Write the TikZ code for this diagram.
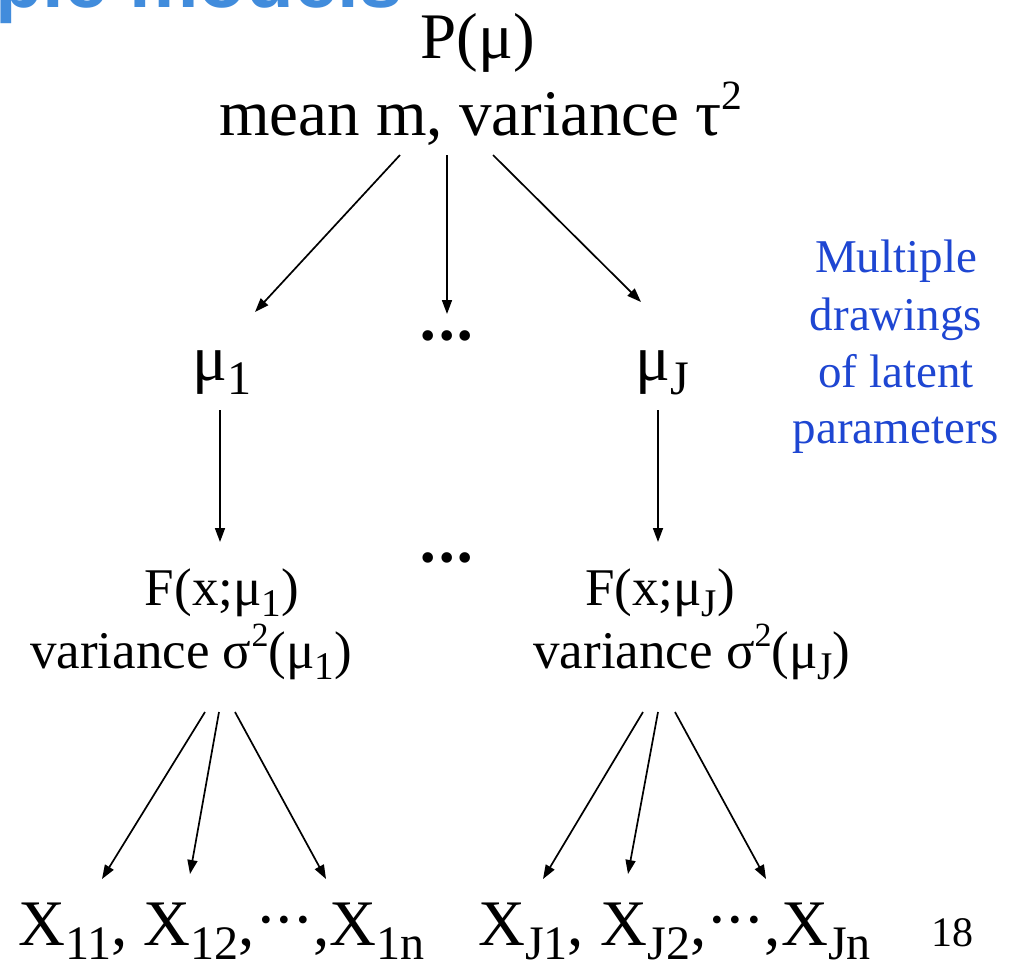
\documentclass[tikz,border=0pt]{standalone}
\usepackage{fontspec}
\setmainfont{Liberation Serif}
\newfontfamily\titlefont{Liberation Sans}
\usetikzlibrary{arrows.meta}
\definecolor{titleblue}{RGB}{65,140,220}
\definecolor{noteblue}{RGB}{30,70,210}
\newcommand\lo[1]{\raisebox{-0.22em}{\scalebox{0.74}{#1}}}
\newcommand\hi[1]{\raisebox{0.4em}{\scalebox{0.64}{#1}}}
\newcommand\cdts{\raisebox{0.05em}{\textperiodcentered\kern-0.05em\textperiodcentered\kern-0.05em\textperiodcentered}}
\tikzset{
  lbl/.style={inner sep=0pt, anchor=base, text=black},
  big/.style={lbl, font=\fontsize{65}{70}\selectfont},
  mid/.style={lbl, font=\fontsize{53}{58}\selectfont},
  note/.style={lbl, text=noteblue, font=\fontsize{47}{52}\selectfont},
  dotsn/.style={lbl, font=\fontsize{44}{48}\selectfont},
  arr/.style={line width=1.7pt, -{Triangle[length=14pt,width=10pt]}},
}
\begin{document}
\begin{tikzpicture}[x=1pt,y=-1pt]
\path[use as bounding box, clip] (0,0) rectangle (1015,962);
\fill[white] (0,0) rectangle (1015,962);
% cut-off title
\node[inner sep=0pt, anchor=base west, text=titleblue, font=\titlefont\bfseries\fontsize{78}{80}\selectfont] (title) at (-5,7) {ple models};
% top
\node[big] (P) at (478,58) {P(μ)};
\node[big] (mean) at (481,135) {mean m, variance τ\hi{2}};
% middle
\node[big] (mu1) at (222,380) {μ\lo{1}};
\node[big] (muJ) at (662,380) {μ\lo{J}};
\node[dotsn] (d1) at (447,350) {•\kern3pt•\kern3pt•};
\node[dotsn] (d2) at (447,572) {•\kern3pt•\kern3pt•};
% F nodes
\node[mid] (F1) at (222,605) {F(x;μ\lo{1})};
\node[mid] (V1) at (191,668) {variance σ\hi{2}(μ\lo{1})};
\node[mid] (FJ) at (660,605) {F(x;μ\lo{J})};
\node[mid] (VJ) at (692,668) {variance σ\hi{2}(μ\lo{J})};
% bottom
\node[big, anchor=base west] (X1) at (18,945) {X\lo{11}, X\lo{12},\cdts,X\lo{1n}};
\node[big, anchor=base west] (XJ) at (478,945) {X\lo{J1}, X\lo{J2},\cdts,X\lo{Jn}};
\node[lbl, font=\fontsize{42}{44}\selectfont, anchor=base west] (pg) at (931,946) {18};
% note
\node[note] (n1) at (896,272) {Multiple};
\node[note] (n2) at (896,330) {drawings};
\node[note] (n3) at (896,387) {of latent};
\node[note] (n4) at (896,443) {parameters};
% connector end points
\coordinate (t1) at (400,155); \coordinate (h1) at (255,312);
\coordinate (t2) at (447,155); \coordinate (h2) at (447,314);
\coordinate (t3) at (493,155); \coordinate (h3) at (641,302);
\coordinate (t4) at (220,410); \coordinate (h4) at (220,542);
\coordinate (t5) at (658,410); \coordinate (h5) at (658,542);
\coordinate (a1) at (205,712); \coordinate (b1) at (102,879);
\coordinate (a2) at (219,712); \coordinate (b2) at (190,874);
\coordinate (a3) at (235,712); \coordinate (b3) at (326,879);
\coordinate (a4) at (643,712); \coordinate (b4) at (543,879);
\coordinate (a5) at (658,712); \coordinate (b5) at (628,874);
\coordinate (a6) at (675,712); \coordinate (b6) at (766,879);
\draw[arr] (t1) -- (h1);
\draw[arr] (t2) -- (h2);
\draw[arr] (t3) -- (h3);
\draw[arr] (t4) -- (h4);
\draw[arr] (t5) -- (h5);
\draw[arr] (a1) -- (b1);
\draw[arr] (a2) -- (b2);
\draw[arr] (a3) -- (b3);
\draw[arr] (a4) -- (b4);
\draw[arr] (a5) -- (b5);
\draw[arr] (a6) -- (b6);
\end{tikzpicture}
\end{document}
